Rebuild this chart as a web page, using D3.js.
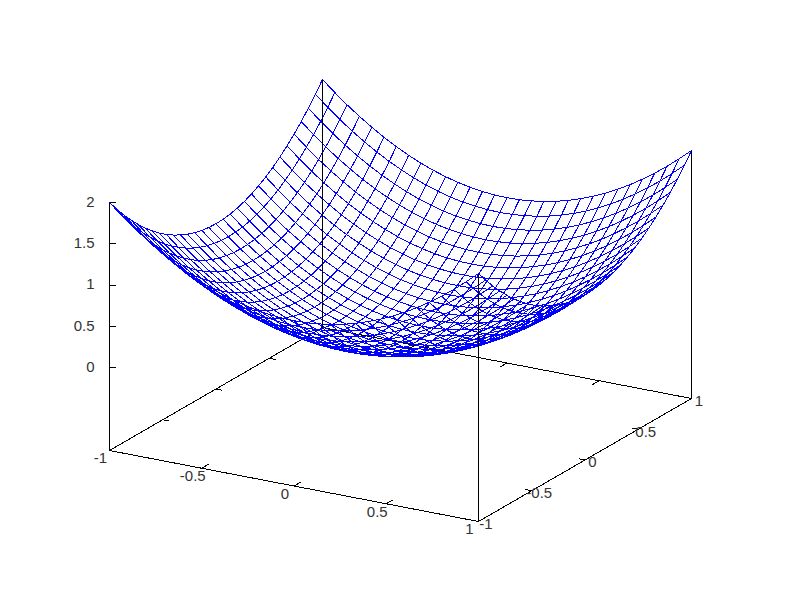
<!DOCTYPE html>
<html>
<head>
<meta charset="utf-8">
<script src="https://cdn.jsdelivr.net/npm/d3@7"></script>
<style>
  html, body { margin: 0; background: #fff; }
  svg { display: block; }
  text { font-family: "Liberation Sans", Arial, sans-serif; font-size: 15px; fill: #333; }
</style>
</head>
<body>
<div id="chart"></div>
<script>
// Basic dimensions
const width = 800;
const height = 600;

// Tick values
const xTicks = [-1, -0.5, 0, 0.5, 1];
const yTicks = [-1, -0.5, 0, 0.5, 1];
const zTicks = [0, 0.5, 1, 1.5, 2];

// Sample positions along both ground axes
const gridPos = [-1, -0.933, -0.867, -0.8, -0.733, -0.667, -0.6, -0.533, -0.467, -0.4, -0.333, -0.267, -0.2, -0.133, -0.067, 0,
  0.067, 0.133, 0.2, 0.267, 0.333, 0.4, 0.467, 0.533, 0.6, 0.667, 0.733, 0.8, 0.867, 0.933, 1];

// Surface heights, one row per y sample, one column per x sample
const zGrid = [
  [2,1.871,1.751,1.64,1.538,1.444,1.36,1.284,1.218,1.16,1.111,1.071,1.04,1.018,1.004,1,1.004,1.018,1.04,1.071,1.111,1.16,1.218,1.284,1.36,1.444,1.538,1.64,1.751,1.871,2],
  [1.871,1.742,1.622,1.511,1.409,1.316,1.231,1.156,1.089,1.031,.982,.942,.911,.889,.876,.871,.876,.889,.911,.942,.982,1.031,1.089,1.156,1.231,1.316,1.409,1.511,1.622,1.742,1.871],
  [1.751,1.622,1.502,1.391,1.289,1.196,1.111,1.036,.969,.911,.862,.822,.791,.769,.756,.751,.756,.769,.791,.822,.862,.911,.969,1.036,1.111,1.196,1.289,1.391,1.502,1.622,1.751],
  [1.64,1.511,1.391,1.28,1.178,1.084,1,.924,.858,.8,.751,.711,.68,.658,.644,.64,.644,.658,.68,.711,.751,.8,.858,.924,1,1.084,1.178,1.28,1.391,1.511,1.64],
  [1.538,1.409,1.289,1.178,1.076,.982,.898,.822,.756,.698,.649,.609,.578,.556,.542,.538,.542,.556,.578,.609,.649,.698,.756,.822,.898,.982,1.076,1.178,1.289,1.409,1.538],
  [1.444,1.316,1.196,1.084,.982,.889,.804,.729,.662,.604,.556,.516,.484,.462,.449,.444,.449,.462,.484,.516,.556,.604,.662,.729,.804,.889,.982,1.084,1.196,1.316,1.444],
  [1.36,1.231,1.111,1,.898,.804,.72,.644,.578,.52,.471,.431,.4,.378,.364,.36,.364,.378,.4,.431,.471,.52,.578,.644,.72,.804,.898,1,1.111,1.231,1.36],
  [1.284,1.156,1.036,.924,.822,.729,.644,.569,.502,.444,.396,.356,.324,.302,.289,.284,.289,.302,.324,.356,.396,.444,.502,.569,.644,.729,.822,.924,1.036,1.156,1.284],
  [1.218,1.089,.969,.858,.756,.662,.578,.502,.436,.378,.329,.289,.258,.236,.222,.218,.222,.236,.258,.289,.329,.378,.436,.502,.578,.662,.756,.858,.969,1.089,1.218],
  [1.16,1.031,.911,.8,.698,.604,.52,.444,.378,.32,.271,.231,.2,.178,.164,.16,.164,.178,.2,.231,.271,.32,.378,.444,.52,.604,.698,.8,.911,1.031,1.16],
  [1.111,.982,.862,.751,.649,.556,.471,.396,.329,.271,.222,.182,.151,.129,.116,.111,.116,.129,.151,.182,.222,.271,.329,.396,.471,.556,.649,.751,.862,.982,1.111],
  [1.071,.942,.822,.711,.609,.516,.431,.356,.289,.231,.182,.142,.111,.089,.076,.071,.076,.089,.111,.142,.182,.231,.289,.356,.431,.516,.609,.711,.822,.942,1.071],
  [1.04,.911,.791,.68,.578,.484,.4,.324,.258,.2,.151,.111,.08,.058,.044,.04,.044,.058,.08,.111,.151,.2,.258,.324,.4,.484,.578,.68,.791,.911,1.04],
  [1.018,.889,.769,.658,.556,.462,.378,.302,.236,.178,.129,.089,.058,.036,.022,.018,.022,.036,.058,.089,.129,.178,.236,.302,.378,.462,.556,.658,.769,.889,1.018],
  [1.004,.876,.756,.644,.542,.449,.364,.289,.222,.164,.116,.076,.044,.022,.009,.004,.009,.022,.044,.076,.116,.164,.222,.289,.364,.449,.542,.644,.756,.876,1.004],
  [1,.871,.751,.64,.538,.444,.36,.284,.218,.16,.111,.071,.04,.018,.004,0,.004,.018,.04,.071,.111,.16,.218,.284,.36,.444,.538,.64,.751,.871,1],
  [1.004,.876,.756,.644,.542,.449,.364,.289,.222,.164,.116,.076,.044,.022,.009,.004,.009,.022,.044,.076,.116,.164,.222,.289,.364,.449,.542,.644,.756,.876,1.004],
  [1.018,.889,.769,.658,.556,.462,.378,.302,.236,.178,.129,.089,.058,.036,.022,.018,.022,.036,.058,.089,.129,.178,.236,.302,.378,.462,.556,.658,.769,.889,1.018],
  [1.04,.911,.791,.68,.578,.484,.4,.324,.258,.2,.151,.111,.08,.058,.044,.04,.044,.058,.08,.111,.151,.2,.258,.324,.4,.484,.578,.68,.791,.911,1.04],
  [1.071,.942,.822,.711,.609,.516,.431,.356,.289,.231,.182,.142,.111,.089,.076,.071,.076,.089,.111,.142,.182,.231,.289,.356,.431,.516,.609,.711,.822,.942,1.071],
  [1.111,.982,.862,.751,.649,.556,.471,.396,.329,.271,.222,.182,.151,.129,.116,.111,.116,.129,.151,.182,.222,.271,.329,.396,.471,.556,.649,.751,.862,.982,1.111],
  [1.16,1.031,.911,.8,.698,.604,.52,.444,.378,.32,.271,.231,.2,.178,.164,.16,.164,.178,.2,.231,.271,.32,.378,.444,.52,.604,.698,.8,.911,1.031,1.16],
  [1.218,1.089,.969,.858,.756,.662,.578,.502,.436,.378,.329,.289,.258,.236,.222,.218,.222,.236,.258,.289,.329,.378,.436,.502,.578,.662,.756,.858,.969,1.089,1.218],
  [1.284,1.156,1.036,.924,.822,.729,.644,.569,.502,.444,.396,.356,.324,.302,.289,.284,.289,.302,.324,.356,.396,.444,.502,.569,.644,.729,.822,.924,1.036,1.156,1.284],
  [1.36,1.231,1.111,1,.898,.804,.72,.644,.578,.52,.471,.431,.4,.378,.364,.36,.364,.378,.4,.431,.471,.52,.578,.644,.72,.804,.898,1,1.111,1.231,1.36],
  [1.444,1.316,1.196,1.084,.982,.889,.804,.729,.662,.604,.556,.516,.484,.462,.449,.444,.449,.462,.484,.516,.556,.604,.662,.729,.804,.889,.982,1.084,1.196,1.316,1.444],
  [1.538,1.409,1.289,1.178,1.076,.982,.898,.822,.756,.698,.649,.609,.578,.556,.542,.538,.542,.556,.578,.609,.649,.698,.756,.822,.898,.982,1.076,1.178,1.289,1.409,1.538],
  [1.64,1.511,1.391,1.28,1.178,1.084,1,.924,.858,.8,.751,.711,.68,.658,.644,.64,.644,.658,.68,.711,.751,.8,.858,.924,1,1.084,1.178,1.28,1.391,1.511,1.64],
  [1.751,1.622,1.502,1.391,1.289,1.196,1.111,1.036,.969,.911,.862,.822,.791,.769,.756,.751,.756,.769,.791,.822,.862,.911,.969,1.036,1.111,1.196,1.289,1.391,1.502,1.622,1.751],
  [1.871,1.742,1.622,1.511,1.409,1.316,1.231,1.156,1.089,1.031,.982,.942,.911,.889,.876,.871,.876,.889,.911,.942,.982,1.031,1.089,1.156,1.231,1.316,1.409,1.511,1.622,1.742,1.871],
  [2,1.871,1.751,1.64,1.538,1.444,1.36,1.284,1.218,1.16,1.111,1.071,1.04,1.018,1.004,1,1.004,1.018,1.04,1.071,1.111,1.16,1.218,1.284,1.36,1.444,1.538,1.64,1.751,1.871,2]
];

const svg = d3.select("#chart")
  .append("svg")
  .attr("width", width)
  .attr("height", height)
  .attr("viewBox", `0 0 ${width} ${height}`);

// Each data axis pushes a point along its own screen direction (view 60,30)
const xToPx = d3.scaleLinear().domain([-1, 1]).range([-184.5, 184.5]);
const xToPy = d3.scaleLinear().domain([-1, 1]).range([-35.5, 35.5]);
const yToPx = d3.scaleLinear().domain([-1, 1]).range([-106.5, 106.5]);
const yToPy = d3.scaleLinear().domain([-1, 1]).range([61.5, -61.5]);
const zToPy = d3.scaleLinear().domain([-1, 2]).range([0, -248]);

const originX = 400.5;
const originY = 424.5;

function project(x, y, z) {
  return [
    originX + xToPx(x) + yToPx(y),
    originY + xToPy(x) + yToPy(y) + zToPy(z)
  ];
}

const line = d3.line();

function drawLine(points, color) {
  svg.append("path")
    .attr("d", line(points))
    .attr("fill", "none")
    .attr("stroke", color)
    .attr("stroke-width", 1)
    .attr("stroke-linejoin", "bevel")
    .attr("shape-rendering", "crispEdges");
}

const black = "#000";
const blue = "#0000ff";

// Back edges of the base sit under the surface
drawLine([project(-1, -1, -1), project(-1, 1, -1), project(1, 1, -1)], black);

// Mirror ticks on the back edges
xTicks.slice(1, -1).forEach(t => drawLine([project(t, 1, -1), project(t, 0.934, -1)], black));
yTicks.slice(1, -1).forEach(t => drawLine([project(-1, t, -1), project(-0.965, t, -1)], black));

// Surface isolines, along x then along y
zGrid.forEach((row, i) => {
  drawLine(row.map((z, j) => project(gridPos[j], gridPos[i], z)), blue);
});
gridPos.forEach((_, j) => {
  drawLine(zGrid.map((row, i) => project(gridPos[j], gridPos[i], row[j])), blue);
});

// Front edges and the four verticals
drawLine([project(-1, -1, -1), project(1, -1, -1), project(1, 1, -1)], black);
drawLine([project(-1, -1, -1), project(-1, -1, 2)], black);
drawLine([project(1, -1, -1), project(1, -1, 2)], black);
drawLine([project(1, 1, -1), project(1, 1, 2)], black);
drawLine([project(-1, 1, -1), project(-1, 1, 2)], black);

// Front ticks
xTicks.slice(1, -1).forEach(t => drawLine([project(t, -1, -1), project(t, -0.934, -1)], black));
yTicks.slice(1, -1).forEach(t => drawLine([project(1, t, -1), project(0.965, t, -1)], black));
zTicks.forEach(t => {
  const p = project(-1, -1, t);
  drawLine([p, [p[0] + 6, p[1]]], black);
});

// Tick labels
svg.selectAll(".x-label")
  .data(xTicks)
  .enter()
  .append("text")
  .attr("class", "x-label")
  .attr("x", d => project(d, -1, -1)[0] - 9)
  .attr("y", d => project(d, -1, -1)[1] + 7.5)
  .attr("dy", "0.35em")
  .attr("text-anchor", "middle")
  .text(d => d);

svg.selectAll(".y-label")
  .data(yTicks)
  .enter()
  .append("text")
  .attr("class", "y-label")
  .attr("x", d => project(1, d, -1)[0] + 7.5)
  .attr("y", d => project(1, d, -1)[1] + 2)
  .attr("dy", "0.35em")
  .attr("text-anchor", "middle")
  .text(d => d);

svg.selectAll(".z-label")
  .data(zTicks)
  .enter()
  .append("text")
  .attr("class", "z-label")
  .attr("x", d => project(-1, -1, d)[0] - 15)
  .attr("y", d => project(-1, -1, d)[1] - 1)
  .attr("dy", "0.35em")
  .attr("text-anchor", "end")
  .text(d => d);
</script>
</body>
</html>
